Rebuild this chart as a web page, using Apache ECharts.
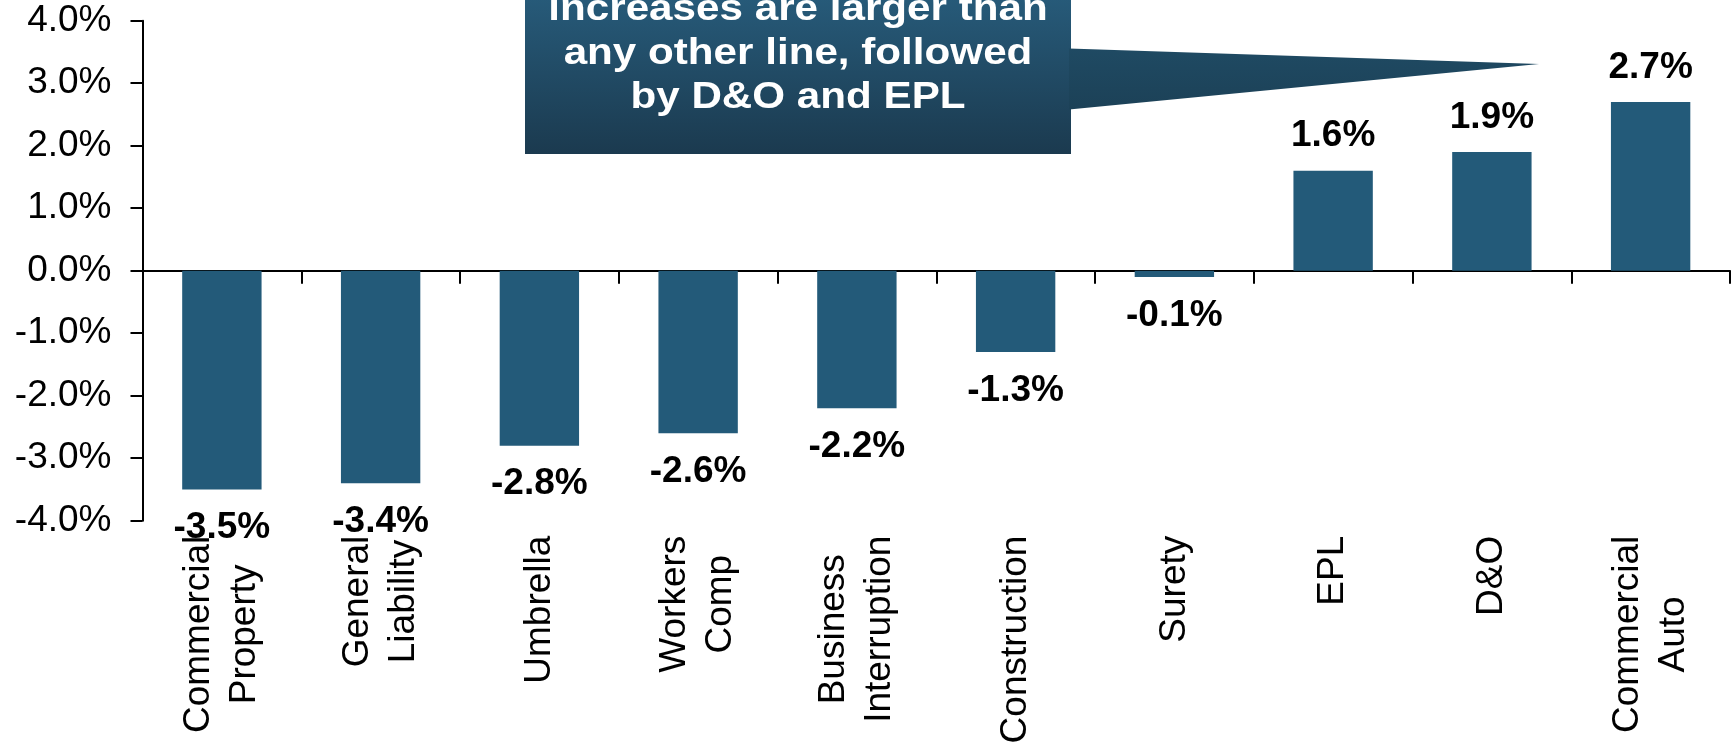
<!DOCTYPE html>
<html><head><meta charset="utf-8">
<script src="https://cdn.jsdelivr.net/npm/echarts@6/dist/echarts.min.js"></script>
<style>html,body{margin:0;padding:0;background:#fff}#chart{width:1734px;height:749px}</style>
</head><body><div id="chart"></div>
<script>
// ---- data ----
const categories = ['Commercial\nProperty', 'General\nLiability', 'Umbrella', 'Workers\nComp', 'Business\nInterruption', 'Construction', 'Surety', 'EPL', 'D&O', 'Commercial\nAuto'];
const rateChange = [-3.5, -3.4, -2.8, -2.6, -2.2, -1.3, -0.1, 1.6, 1.9, 2.7];
const yMin = -4, yMax = 4, yInterval = 1;
const calloutLines = ['increases are larger than', 'any other line, followed', 'by D&O and EPL'];

const FONT = "'Liberation Sans', Arial, Helvetica, sans-serif";
const BAR = '#235A79';

const chart = echarts.init(document.getElementById('chart'), null, {renderer: 'canvas'});

const seriesData = rateChange.map(v => ({
  value: v,
  label: {position: v >= 0 ? 'top' : 'bottom', distance: v >= 0 ? 16 : 20}
}));

chart.setOption({
  animation: false,
  backgroundColor: '#ffffff',
  grid: {left: 142.5, right: 4, top: 20.7, bottom: 228.3, containLabel: false},
  xAxis: [
    {
      type: 'category', data: categories, position: 'bottom',
      axisLine: {show: false, onZero: false}, axisTick: {show: false},
      axisLabel: {
        rotate: 90, margin: 15, interval: 0, color: '#000',
        formatter: v => v.split('\n').map(s => '{c|' + s + '}').join('\n'),
        rich: {c: {align: 'center', fontSize: 37, lineHeight: 46, fontFamily: FONT, color: '#000'}}
      }
    },
    {
      type: 'category', data: categories, position: 'bottom',
      axisLine: {show: true, onZero: true, lineStyle: {color: '#000', width: 2}},
      axisTick: {show: true, length: 13, interval: 0, lineStyle: {color: '#000', width: 2}},
      axisLabel: {show: false}
    }
  ],
  yAxis: {
    type: 'value', min: yMin, max: yMax, interval: yInterval,
    axisLine: {show: true, lineStyle: {color: '#000', width: 2}},
    axisTick: {show: true, length: 12, lineStyle: {color: '#000', width: 2}},
    splitLine: {show: false},
    axisLabel: {
      margin: 31, color: '#000', fontSize: 37, fontFamily: FONT,
      formatter: v => v.toFixed(1) + '%'
    }
  },
  series: [{
    type: 'bar', xAxisIndex: 0, data: seriesData, barWidth: '50%',
    itemStyle: {color: BAR},
    label: {
      show: true, color: '#000', fontSize: 37, fontWeight: 'bold', fontFamily: FONT,
      formatter: p => p.value.toFixed(1) + '%'
    },
    z: 3
  }],
  graphic: [
    {
      type: 'rect', z: 100,
      shape: {x: 525, y: -20, width: 546, height: 174},
      style: {fill: new echarts.graphic.LinearGradient(0, 0, 0, 1, [
        {offset: 0, color: '#285E7E'}, {offset: 1, color: '#1B3A4F'}])}
    },
    {
      type: 'polygon', z: 100,
      shape: {points: [[1069, 48.5], [1539, 64], [1069, 109.5]]},
      style: {fill: new echarts.graphic.LinearGradient(0, 0, 0, 1, [
        {offset: 0, color: '#1F4A63'}, {offset: 1, color: '#1C4157'}])}
    },
    {
      type: 'text', z: 101, x: 798, y: 54, scaleX: 1.14,
      style: {
        text: calloutLines.join('\n'), fill: '#ffffff',
        font: "bold 37px 'Liberation Sans', Arial, sans-serif",
        align: 'center', verticalAlign: 'middle', lineHeight: 44
      }
    }
  ]
});
</script>
</body></html>
